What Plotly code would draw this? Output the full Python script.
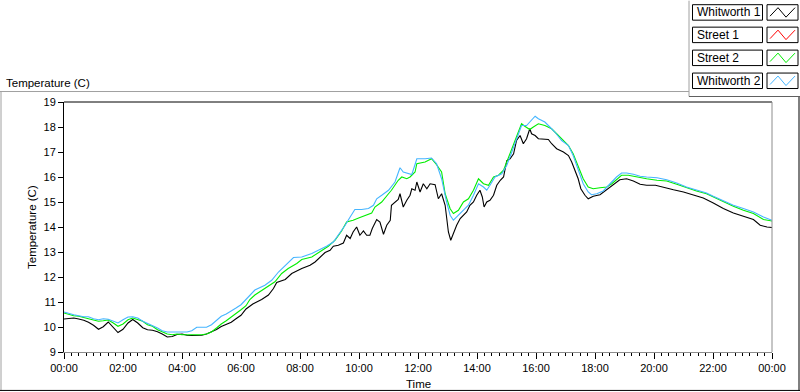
import plotly.graph_objects as go

# ---------------- data (time in hours, temperature in C) ----------------
series_names = ["Whitworth 1", "Street 1", "Street 2", "Whitworth 2"]
series_colors = ["#000000", "#ff0000", "#00ee00", "#45b5ff"]

w1_time = [0.00, 0.17, 0.33, 0.50, 0.67, 0.83, 1.00, 1.17, 1.33, 1.50, 1.67, 1.83, 2.00, 2.17, 2.33, 2.50,
           2.67, 2.83, 3.00, 3.17, 3.33, 3.50, 3.67, 3.83, 4.00, 4.17, 4.33, 4.50, 4.67, 4.83, 5.00, 5.17,
           5.33, 5.50, 5.67, 5.83, 6.00, 6.17, 6.40, 6.70, 6.93, 7.10, 7.21, 7.50, 7.72, 8.06, 8.34, 8.51,
           8.68, 8.85, 9.02, 9.13, 9.30, 9.47, 9.58, 9.70, 9.80, 9.92, 10.03, 10.15, 10.26, 10.37, 10.45,
           10.60, 10.71, 10.83, 10.94, 11.06, 11.10, 11.22, 11.33, 11.39, 11.45, 11.50, 11.62, 11.73, 11.79,
           11.90, 11.96, 12.07, 12.18, 12.30, 12.41, 12.58, 12.69, 12.80, 12.92, 12.97, 13.03, 13.11, 13.20,
           13.31, 13.43, 13.54, 13.65, 13.76, 13.88, 13.99, 14.10, 14.18, 14.24, 14.33, 14.44, 14.56, 14.67,
           14.79, 14.90, 15.01, 15.12, 15.24, 15.34, 15.46, 15.57, 15.68, 15.79, 15.85, 15.97, 16.08, 16.25,
           16.42, 16.53, 16.70, 16.93, 17.10, 17.21, 17.32, 17.43, 17.52, 17.66, 17.77, 17.94, 18.17, 18.40,
           18.62, 18.84, 19.07, 19.30, 19.53, 19.75, 20.05, 20.33, 20.66, 21.00, 21.33, 21.67, 22.01, 22.35,
           22.69, 23.03, 23.37, 23.60, 23.83, 24.00]
w1_temp = [10.32, 10.35, 10.36, 10.32, 10.27, 10.19, 10.07, 9.91, 10.01, 10.20, 9.99, 9.78, 9.91, 10.16, 10.30, 10.16,
           9.97, 9.89, 9.87, 9.81, 9.72, 9.60, 9.62, 9.70, 9.72, 9.67, 9.66, 9.68, 9.67, 9.72, 9.80, 9.90,
           10.02, 10.09, 10.19, 10.33, 10.47, 10.72, 10.92, 11.10, 11.28, 11.54, 11.78, 11.90, 12.14, 12.34, 12.47, 12.60,
           12.80, 12.98, 13.07, 13.23, 13.27, 13.36, 13.67, 13.54, 13.80, 14.00, 13.67, 13.84, 13.67, 13.67, 13.94,
           14.30, 14.20, 13.71, 14.07, 14.27, 14.87, 15.00, 15.10, 15.33, 15.07, 14.80, 15.07, 15.27, 15.53,
           15.47, 15.80, 15.40, 15.73, 15.53, 15.73, 15.69, 15.13, 15.33, 14.87, 14.34, 13.80, 13.47, 13.74,
           14.07, 14.34, 14.47, 14.60, 14.87, 15.00, 15.27, 15.47, 15.20, 14.80, 15.00, 15.07, 15.27, 15.67,
           15.87, 16.00, 16.66, 16.73, 16.93, 17.46, 17.66, 17.33, 17.53, 17.93, 17.73, 17.66, 17.53, 17.53,
           17.50, 17.33, 17.13, 17.00, 16.86, 16.60, 16.27, 15.93, 15.53, 15.27, 15.13, 15.23, 15.29, 15.49,
           15.71, 15.89, 15.93, 15.84, 15.71, 15.67, 15.67, 15.60, 15.49, 15.40, 15.29, 15.16, 14.96, 14.74,
           14.56, 14.43, 14.30, 14.07, 14.00, 13.98]

s1_time = []
s1_temp = []

s2_time = [0.00, 0.17, 0.33, 0.50, 0.67, 0.83, 1.00, 1.17, 1.33, 1.50, 1.67, 1.83, 2.00, 2.17, 2.33, 2.50,
           2.67, 2.83, 3.00, 3.17, 3.33, 3.50, 3.67, 3.83, 4.00, 4.17, 4.33, 4.50, 4.67, 4.83, 5.00, 5.17,
           5.33, 5.50, 5.67, 5.83, 6.00, 6.17, 6.30, 6.47, 6.81, 7.15, 7.38, 7.60, 7.89, 8.06, 8.40, 8.73,
           8.96, 9.19, 9.41, 9.58, 9.80, 10.03, 10.32, 10.43, 10.54, 10.77, 11.00, 11.10, 11.33, 11.45, 11.62,
           11.73, 11.90, 11.96, 12.24, 12.46, 12.63, 12.80, 12.92, 13.09, 13.20, 13.37, 13.54, 13.71, 13.88,
           14.05, 14.22, 14.39, 14.56, 14.73, 14.90, 15.01, 15.18, 15.34, 15.51, 15.62, 15.79, 15.91, 16.08,
           16.30, 16.53, 16.70, 16.87, 17.10, 17.26, 17.43, 17.60, 17.77, 17.94, 18.17, 18.40, 18.57, 18.73,
           18.90, 19.13, 19.41, 19.75, 20.10, 20.43, 20.77, 21.10, 21.44, 21.78, 22.01, 22.35, 22.69, 23.03,
           23.37, 23.71, 24.00]
s2_temp = [10.56, 10.49, 10.45, 10.43, 10.39, 10.33, 10.28, 10.23, 10.25, 10.28, 10.16, 10.03, 10.12, 10.29, 10.36, 10.29,
           10.23, 10.09, 10.03, 9.89, 9.80, 9.72, 9.69, 9.72, 9.69, 9.69, 9.67, 9.69, 9.69, 9.72, 9.80, 9.96,
           10.12, 10.25, 10.39, 10.52, 10.69, 10.85, 11.10, 11.28, 11.54, 11.81, 12.14, 12.34, 12.54, 12.70, 12.80, 13.07,
           13.23, 13.47, 13.84, 14.20, 14.27, 14.38, 14.51, 14.56, 14.80, 15.00, 15.33, 15.47, 15.87, 16.00, 15.93,
           16.00, 16.20, 16.53, 16.60, 16.73, 16.49, 16.20, 15.33, 14.73, 14.54, 14.67, 15.00, 15.13, 15.47,
           15.93, 15.73, 15.67, 16.00, 16.07, 16.27, 16.60, 17.06, 17.60, 18.13, 18.03, 17.90, 18.00, 18.13,
           18.06, 17.93, 17.73, 17.53, 17.26, 16.93, 16.40, 15.93, 15.60, 15.53, 15.57, 15.60, 15.73, 15.89,
           16.07, 16.07, 16.00, 15.93, 15.87, 15.84, 15.71, 15.57, 15.44, 15.33, 15.20, 15.00, 14.83, 14.67,
           14.54, 14.30, 14.24]

w2_time = [0.00, 0.17, 0.33, 0.50, 0.67, 0.83, 1.00, 1.17, 1.33, 1.50, 1.67, 1.83, 2.00, 2.17, 2.33, 2.50,
           2.67, 2.83, 3.00, 3.17, 3.33, 3.50, 3.67, 3.83, 4.00, 4.17, 4.33, 4.50, 4.67, 4.83, 5.00, 5.17,
           5.33, 5.50, 5.67, 5.83, 6.00, 6.17, 6.47, 6.81, 7.04, 7.27, 7.50, 7.78, 8.06, 8.40, 8.62, 8.90,
           9.13, 9.30, 9.53, 9.70, 9.86, 10.09, 10.32, 10.49, 10.60, 10.77, 11.00, 11.22, 11.39, 11.50, 11.67,
           11.79, 11.90, 11.96, 12.24, 12.46, 12.63, 12.80, 12.97, 13.09, 13.20, 13.37, 13.54, 13.71, 13.88,
           14.05, 14.22, 14.33, 14.44, 14.61, 14.84, 15.01, 15.18, 15.34, 15.51, 15.68, 15.85, 15.97, 16.08,
           16.30, 16.47, 16.64, 16.87, 17.10, 17.26, 17.43, 17.60, 17.77, 17.88, 18.06, 18.28, 18.51, 18.73,
           18.90, 19.07, 19.30, 19.53, 19.75, 20.10, 20.43, 20.77, 21.10, 21.44, 21.78, 22.01, 22.35, 22.69,
           23.03, 23.37, 23.71, 24.00]
w2_temp = [10.60, 10.53, 10.49, 10.45, 10.41, 10.41, 10.33, 10.29, 10.33, 10.31, 10.23, 10.16, 10.29, 10.40, 10.41, 10.36,
           10.23, 10.15, 10.07, 9.96, 9.85, 9.80, 9.80, 9.80, 9.80, 9.80, 9.85, 9.99, 9.99, 9.99, 10.09, 10.25,
           10.43, 10.52, 10.63, 10.76, 10.89, 11.09, 11.48, 11.67, 11.87, 12.20, 12.47, 12.78, 12.80, 12.94, 13.07, 13.23,
           13.40, 13.67, 14.07, 14.40, 14.70, 14.70, 14.74, 14.87, 15.13, 15.27, 15.47, 15.80, 16.37, 16.20, 16.13,
           16.10, 16.50, 16.73, 16.73, 16.76, 16.53, 15.93, 15.00, 14.47, 14.27, 14.47, 14.67, 14.87, 15.27,
           15.73, 15.60, 15.47, 15.67, 16.00, 16.13, 16.47, 17.00, 17.53, 18.06, 18.06, 18.26, 18.43, 18.33,
           18.20, 18.00, 17.80, 17.46, 17.26, 16.86, 16.30, 15.73, 15.40, 15.29, 15.33, 15.44, 15.73, 16.00,
           16.16, 16.16, 16.11, 16.03, 16.00, 15.97, 15.89, 15.76, 15.60, 15.47, 15.36, 15.23, 15.04, 14.87,
           14.74, 14.60, 14.40, 14.27]

x_tick_values = [0, 2, 4, 6, 8, 10, 12, 14, 16, 18, 20, 22, 24]
x_tick_labels = ["00:00", "02:00", "04:00", "06:00", "08:00", "10:00", "12:00",
                 "14:00", "16:00", "18:00", "20:00", "22:00", "00:00"]
y_tick_values = [9, 10, 11, 12, 13, 14, 15, 16, 17, 18, 19]

# ---------------- figure ----------------
W, H = 800, 392
L, R, T, B = 64, 772, 101.5, 352


def px(x):
    return (x - L) / (R - L)


def py(y):
    return (B - y) / (B - T)


FONT = "Liberation Sans, Arial, sans-serif"

fig = go.Figure()
all_times = [w1_time, s1_time, s2_time, w2_time]
all_temps = [w1_temp, s1_temp, s2_temp, w2_temp]
for name, color, tt, vv in zip(series_names, series_colors, all_times, all_temps):
    fig.add_trace(go.Scatter(x=tt, y=vv, mode="lines", name=name,
                             line=dict(color=color, width=1.1), showlegend=False))

shapes = []
# plot frame: black top, gray right
shapes.append(dict(type="line", xref="paper", yref="paper", x0=0, x1=1, y0=1, y1=1,
                   line=dict(color="black", width=1)))
shapes.append(dict(type="line", xref="paper", yref="paper", x0=1, x1=1, y0=0, y1=1,
                   line=dict(color="#8c8c8c", width=1)))
# outer sunken frame
shapes.append(dict(type="line", xref="paper", yref="paper", x0=px(0), x1=px(689), y0=py(91), y1=py(91),
                   line=dict(color="#a0a0a0", width=1)))
shapes.append(dict(type="line", xref="paper", yref="paper", x0=px(1), x1=px(1), y0=py(91), y1=py(391),
                   line=dict(color="#a0a0a0", width=1)))
shapes.append(dict(type="line", xref="paper", yref="paper", x0=px(0), x1=px(800), y0=py(390.5), y1=py(390.5),
                   line=dict(color="black", width=1)))
shapes.append(dict(type="line", xref="paper", yref="paper", x0=px(799), x1=px(799), y0=py(96), y1=py(391),
                   line=dict(color="black", width=1)))
# legend frame
shapes.append(dict(type="line", xref="paper", yref="paper", x0=px(689), x1=px(689), y0=py(0), y1=py(96),
                   line=dict(color="#a0a0a0", width=1)))
shapes.append(dict(type="line", xref="paper", yref="paper", x0=px(689), x1=px(800), y0=py(96), y1=py(96),
                   line=dict(color="#606060", width=1)))

annotations = []
row_tops = [4, 26.5, 49.5, 72.5]
for name, color, top in zip(series_names, series_colors, row_tops):
    bot = top + 15.5
    shapes.append(dict(type="rect", xref="paper", yref="paper", x0=px(692.5), x1=px(762.5),
                       y0=py(bot), y1=py(top), line=dict(color="black", width=1), fillcolor="white"))
    shapes.append(dict(type="rect", xref="paper", yref="paper", x0=px(767), x1=px(798),
                       y0=py(bot), y1=py(top), line=dict(color="black", width=1), fillcolor="white"))
    zx = [770, 778, 786, 795]
    zy = [bot - 4, top + 3, bot - 3, top + 3]
    path = "M {} {} L {} {} L {} {} L {} {}".format(
        px(zx[0]), py(zy[0]), px(zx[1]), py(zy[1]), px(zx[2]), py(zy[2]), px(zx[3]), py(zy[3]))
    shapes.append(dict(type="path", xref="paper", yref="paper", path=path,
                       line=dict(color=color, width=1)))
    annotations.append(dict(text=name, xref="paper", yref="paper", x=px(695), y=py((top + bot) / 2),
                            xanchor="left", yanchor="middle", showarrow=False,
                            font=dict(family=FONT, size=12, color="black")))

annotations.append(dict(text="Temperature (C)", xref="paper", yref="paper", x=px(4), y=py(82.5),
                        xanchor="left", yanchor="middle", showarrow=False,
                        font=dict(family=FONT, size=11.5, color="black")))
annotations.append(dict(text="Temperature (C)", xref="paper", yref="paper", x=px(32), y=0.5,
                        xanchor="center", yanchor="middle", showarrow=False, textangle=-90,
                        font=dict(family=FONT, size=11.5, color="black")))
annotations.append(dict(text="Time", xref="paper", yref="paper", x=0.5, y=py(384),
                        xanchor="center", yanchor="middle", showarrow=False,
                        font=dict(family=FONT, size=11.5, color="black")))

fig.update_layout(
    width=W, height=H,
    margin=dict(l=L, r=W - R, t=T, b=H - B, pad=0),
    paper_bgcolor="white", plot_bgcolor="white",
    shapes=shapes, annotations=annotations,
    xaxis=dict(range=[0, 24], tickmode="array", tickvals=x_tick_values, ticktext=x_tick_labels,
               showgrid=False, zeroline=False, showline=True, linecolor="#8c8c8c", linewidth=1,
               ticks="outside", ticklen=6, tickcolor="black", tickwidth=1,
               tickfont=dict(family=FONT, size=11, color="black"),
               minor=dict(tickmode="linear", tick0=0, dtick=0.25, ticks="outside", ticklen=3,
                          tickcolor="black", tickwidth=1, showgrid=False)),
    yaxis=dict(range=[9, 19], tickmode="array", tickvals=y_tick_values,
               showgrid=False, zeroline=False, showline=True, linecolor="black", linewidth=1,
               ticks="outside", ticklen=5, tickcolor="black", tickwidth=1,
               tickfont=dict(family=FONT, size=11, color="black")),
)

fig.write_html("out.html", config={"displayModeBar": False},
               post_script="document.body.style.margin='0';")
